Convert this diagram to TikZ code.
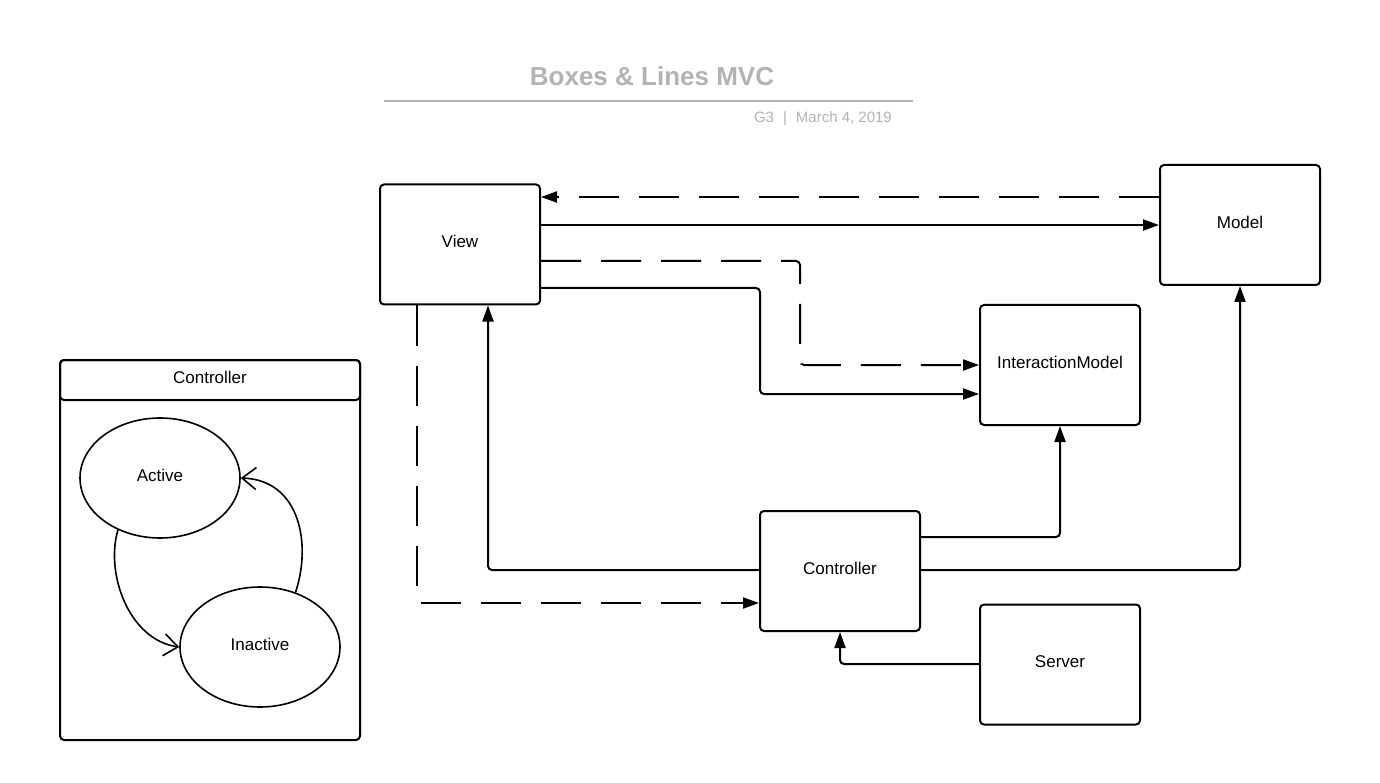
\documentclass[tikz,border=0pt]{standalone}
\usepackage{fontspec}
\setmainfont{Liberation Sans}
\usetikzlibrary{arrows.meta,shapes.geometric}
\definecolor{titlegray}{HTML}{B3B3B3}
\begin{document}
\begin{tikzpicture}[x=1pt,y=-1pt,
  box/.style={draw,line width=2pt,rounded corners=4pt,minimum width=160pt,minimum height=120pt,inner sep=0pt,text height=12.4pt,text depth=6pt,font=\fontsize{17}{20}\selectfont},
  state/.style={draw,ellipse,line width=1.6pt,minimum width=160pt,minimum height=120pt,inner sep=0pt,font=\fontsize{17}{20}\selectfont},
  conn/.style={line width=2pt,rounded corners=4pt},
  arr/.style={conn,-{Triangle[length=16pt,width=11pt]}},
  dashy/.style={dash pattern=on 40pt off 20pt},
  openarr/.style={line width=1.6pt,-{Straight Barb[length=14pt,width=22pt]}},
  lbl/.style={font=\fontsize{17}{20}\selectfont}
]
\useasboundingbox (0,0) rectangle (1380,783);
\fill[white] (0,0) rectangle (1380,783);

% title
\node[text=titlegray,font=\bfseries\fontsize{26}{30}\selectfont] (title) at (652,76) {Boxes \& Lines MVC};
\coordinate (rl) at (384,101);
\coordinate (rr) at (913,101);
\draw[titlegray,line width=2pt] (rl) -- (rr);
\node[text=titlegray,anchor=east,font=\fontsize{15}{18}\selectfont,inner sep=0pt] (sub) at (892,119) {G3\hspace{0.6em}|\hspace{0.6em}March 4, 2019};

% boxes
\node[box] (View) at (460,244.5) {View};
\node[box] (Model) at (1240,225) {Model};
\node[box] (IM) at (1060,365) {InteractionModel};
\node[box] (Ctrl) at (840,571) {Controller};
\node[box] (Server) at (1060,664.5) {Server};

% connectors
\draw[arr,dashy] (Model.west |- 0,197) -- (View.east |- 0,197);
\draw[arr] (View.east |- 0,225) -- (Model.west |- 0,225);
\draw[arr,dashy] (View.east |- 0,261) -- (800,261) -- (800,365) -- (IM.west |- 0,365);
\draw[arr] (View.east |- 0,288) -- (760,288) -- (760,394) -- (IM.west |- 0,394);
\draw[arr,dashy] (View.south -| 417,0) -- (417,603) -- (Ctrl.west |- 0,603);
\draw[arr] (Ctrl.west |- 0,570) -- (488,570) -- (View.south -| 488,0);
\draw[arr] (Ctrl.east |- 0,537) -- (1060,537) -- (IM.south);
\draw[arr] (Ctrl.east |- 0,570) -- (1240,570) -- (Model.south);
\draw[arr] (Server.west |- 0,664) -- (840,664) -- (Ctrl.south);

% left controller container
\node[draw,line width=2pt,rounded corners=4pt,minimum width=300pt,minimum height=380pt,inner sep=0pt] (cont) at (210,550) {};
\node[draw,line width=2pt,rounded corners=4pt,minimum width=300pt,minimum height=40pt,inner sep=0pt,lbl] (conthead) at (210,380) {};
\node[lbl] (contlbl) at (210,377) {Controller};

\node[state] (Active) at (160,478) {};
\node[lbl] (activelbl) at (160,475) {Active};
\node[state] (Inactive) at (260,647) {};
\node[lbl] (inactivelbl) at (260,644) {Inactive};

\draw[openarr] (Active.231) .. controls +(-13,44) and +(-50,-7) .. (Inactive.west);
\draw[openarr] (Inactive.57) .. controls +(16,-47) and +(60,2) .. (Active.east);
\end{tikzpicture}
\end{document}
